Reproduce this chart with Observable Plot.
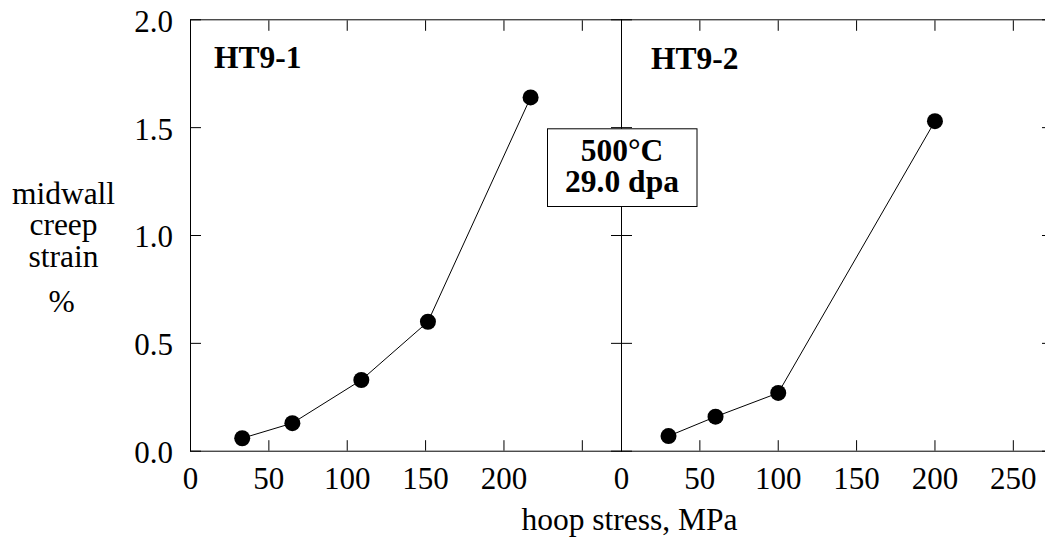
<!DOCTYPE html>
<html>
<head>
<meta charset="utf-8">
<script src="https://cdn.jsdelivr.net/npm/d3@7"></script>
<script src="https://cdn.jsdelivr.net/npm/@observablehq/plot@0.6"></script>
<style>
  html, body { margin: 0; padding: 0; background: #fff; overflow: hidden; }
  #chart { width: 1045px; height: 539px; overflow: hidden; }
  #chart svg { max-width: none !important; }
</style>
</head>
<body>
<div id="chart"></div>
<script>
// ---- data ----
const panels = ["HT9-1", "HT9-2"];
const ht91Stress = [33, 65, 109, 151.5, 217];
const ht91Strain = [0.06, 0.13, 0.33, 0.60, 1.64];
const ht92Stress = [30, 60, 100, 200];
const ht92Strain = [0.07, 0.16, 0.27, 1.53];
const xTicks = [0, 50, 100, 150, 200, 250];
const xTickLabelsLeft = [0, 50, 100, 150, 200];
const xTickLabelsRight = [0, 50, 100, 150, 200, 250];
const yTicks = [0, 0.5, 1.0, 1.5, 2.0];
const noteText = "500°C\n29.0 dpa";
const yLabelText = "midwall\ncreep\nstrain";
const yUnitText = "%";
const xLabelText = "hoop stress, MPa";

const points = [
  ...ht91Stress.map((s, i) => ({panel: panels[0], stress: s, strain: ht91Strain[i]})),
  ...ht92Stress.map((s, i) => ({panel: panels[1], stress: s, strain: ht92Strain[i]}))
];
const xTickLabelTable = [
  ...xTickLabelsLeft.map(v => ({panel: panels[0], v})),
  ...xTickLabelsRight.map(v => ({panel: panels[1], v}))
];

const serif = "'Liberation Serif', 'Times New Roman', serif";
const tickFont = 31;
const labelFont = 31.5;

const plot = Plot.plot({
  width: 1060,
  height: 539,
  marginLeft: 189.5,
  marginRight: 7.5,
  marginTop: 19.3,
  marginBottom: 88.3,
  style: {fontFamily: serif, color: "#000", background: "#fff", overflow: "visible", maxWidth: "none"},
  fx: {domain: panels, padding: 0, axis: null},
  x: {domain: [0, 275], axis: null},
  y: {domain: [0, 2], axis: null},
  marks: [
    Plot.frame({stroke: "#000", strokeWidth: 1}),
    Plot.axisX({anchor: "bottom", ticks: xTicks, tickSize: -10.5, stroke: "#000", fill: "none", label: null}),
    Plot.axisX({anchor: "top", ticks: xTicks, tickSize: -10.5, stroke: "#000", fill: "none", label: null, facetAnchor: null}),
    Plot.axisY({anchor: "left", ticks: yTicks, tickSize: -11, stroke: "#000", fill: "none", label: null, facetAnchor: null}),
    Plot.axisY({anchor: "right", ticks: yTicks, tickSize: -11, stroke: "#000", fill: "none", label: null, facetAnchor: null}),
    Plot.axisY({anchor: "left", ticks: yTicks, tickFormat: d3.format(".1f"), tickSize: 0, tickPadding: 17.5,
      fontSize: tickFont, dy: 2, label: null, fill: "#000"}),
    Plot.text(xTickLabelTable, {fx: "panel", x: "v", text: d => String(d.v), frameAnchor: "bottom",
      lineAnchor: "bottom", dy: 37.5, fontSize: tickFont}),
    Plot.line(points, {fx: "panel", x: "stress", y: "strain", stroke: "#000", strokeWidth: 1}),
    Plot.dot(points, {fx: "panel", x: "stress", y: "strain", r: 8, fill: "#000", stroke: "none"}),
    Plot.text([panels[0]], {fx: d => d, text: d => d, frameAnchor: "top-left", textAnchor: "start",
      lineAnchor: "bottom", dx: 23.5, dy: 48.5, fontSize: labelFont, fontWeight: "bold"}),
    Plot.text([panels[1]], {fx: d => d, text: d => d, frameAnchor: "top-left", textAnchor: "start",
      lineAnchor: "bottom", dx: 29.5, dy: 49.5, fontSize: labelFont, fontWeight: "bold"}),
    Plot.text([yLabelText], {fx: () => panels[0], text: d => d, frameAnchor: "left", textAnchor: "middle",
      lineAnchor: "bottom", lineHeight: 1.0, dx: -127, dy: 31, fontSize: labelFont}),
    Plot.text([yUnitText], {fx: () => panels[0], text: d => d, frameAnchor: "left", textAnchor: "middle",
      lineAnchor: "bottom", dx: -129, dy: 76.5, fontSize: labelFont}),
    Plot.text([xLabelText], {fx: () => panels[1], text: d => d, frameAnchor: "bottom-left", textAnchor: "middle",
      lineAnchor: "bottom", dx: 8, dy: 79, fontSize: labelFont}),
    Plot.text([noteText], {fx: () => panels[1], text: d => d, frameAnchor: "top-left", textAnchor: "middle",
      lineAnchor: "middle", lineHeight: 1.005, dx: 0.5, dy: 146.4, fontSize: labelFont, fontWeight: "bold",
      className: "note-box"})
  ]
});
plot.style.maxWidth = "none";
document.getElementById("chart").appendChild(plot);

// white box with border behind the annotation
document.querySelectorAll(".note-box text").forEach(t => {
  const rect = document.createElementNS("http://www.w3.org/2000/svg", "rect");
  const tr = t.getAttribute("transform");
  if (tr) rect.setAttribute("transform", tr);
  const bx = t.getAttribute("x"), by = t.getAttribute("y");
  const ox = bx ? +bx : 0, oy = by ? +by : 0;
  rect.setAttribute("x", ox - 74.5);
  rect.setAttribute("y", oy - 37.4);
  rect.setAttribute("width", 149.5);
  rect.setAttribute("height", 77.7);
  rect.setAttribute("fill", "#fff");
  rect.setAttribute("stroke", "#000");
  rect.setAttribute("stroke-width", 1);
  t.parentNode.insertBefore(rect, t);
});
</script>
</body>
</html>
